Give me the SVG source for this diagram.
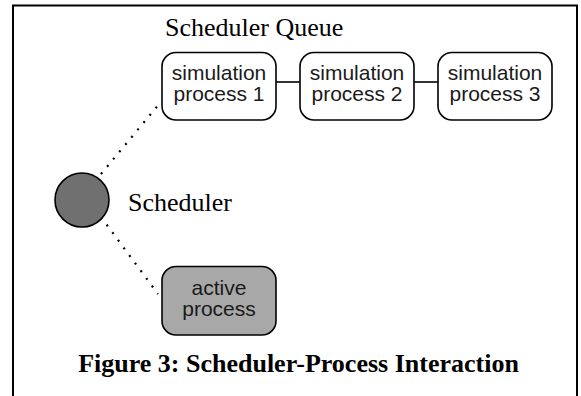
<svg xmlns="http://www.w3.org/2000/svg" width="581" height="396" viewBox="0 0 581 396">
<style>
.serif{font-family:"Liberation Serif","Times New Roman",serif;font-size:26px;fill:#000}
.sans{font-family:"Liberation Sans",Arial,sans-serif;font-size:21px;fill:#1a1a1a;text-anchor:middle}
.box{stroke:#000;stroke-width:1.6}
.conn{stroke:#000;stroke-width:1.6;fill:none}
.dot{stroke:#000;stroke-width:2.2;fill:none;stroke-dasharray:2 7.5}
</style>
<rect width="581" height="396" fill="#fff"/>
<path d="M13,400 V5.5 H577 V400" fill="none" stroke="#000" stroke-width="2"/>
<text class="serif" x="165" y="36">Scheduler Queue</text>
<g id="connectors">
<line class="conn" x1="276" y1="82" x2="300" y2="82"/>
<line class="conn" x1="414" y1="82" x2="438" y2="82"/>
<line class="dot" x1="101" y1="174" x2="160" y2="103"/>
<line class="dot" x1="101" y1="217" x2="158" y2="294"/>
</g>
<g id="sim1">
<rect class="box" x="162" y="52.5" width="114" height="67.5" rx="14" fill="#fff"/>
<text class="sans" x="219" y="80">simulation</text>
<text class="sans" x="219" y="101">process 1</text>
</g>
<g id="sim2">
<rect class="box" x="300" y="52.5" width="114" height="67.5" rx="14" fill="#fff"/>
<text class="sans" x="357" y="80">simulation</text>
<text class="sans" x="357" y="101">process 2</text>
</g>
<g id="sim3">
<rect class="box" x="438" y="52.5" width="114" height="67.5" rx="14" fill="#fff"/>
<text class="sans" x="495" y="80">simulation</text>
<text class="sans" x="495" y="101">process 3</text>
</g>
<g id="scheduler">
<circle class="box" cx="82" cy="200" r="27" fill="#707070"/>
<text class="serif" x="128" y="211">Scheduler</text>
</g>
<g id="active">
<rect class="box" x="162" y="266.5" width="114" height="68.5" rx="14" fill="#a8a8a8"/>
<text class="sans" x="219" y="295">active</text>
<text class="sans" x="219" y="316">process</text>
</g>
<text class="serif" x="298.5" y="372" text-anchor="middle" font-weight="bold">Figure 3: Scheduler-Process Interaction</text>
</svg>
